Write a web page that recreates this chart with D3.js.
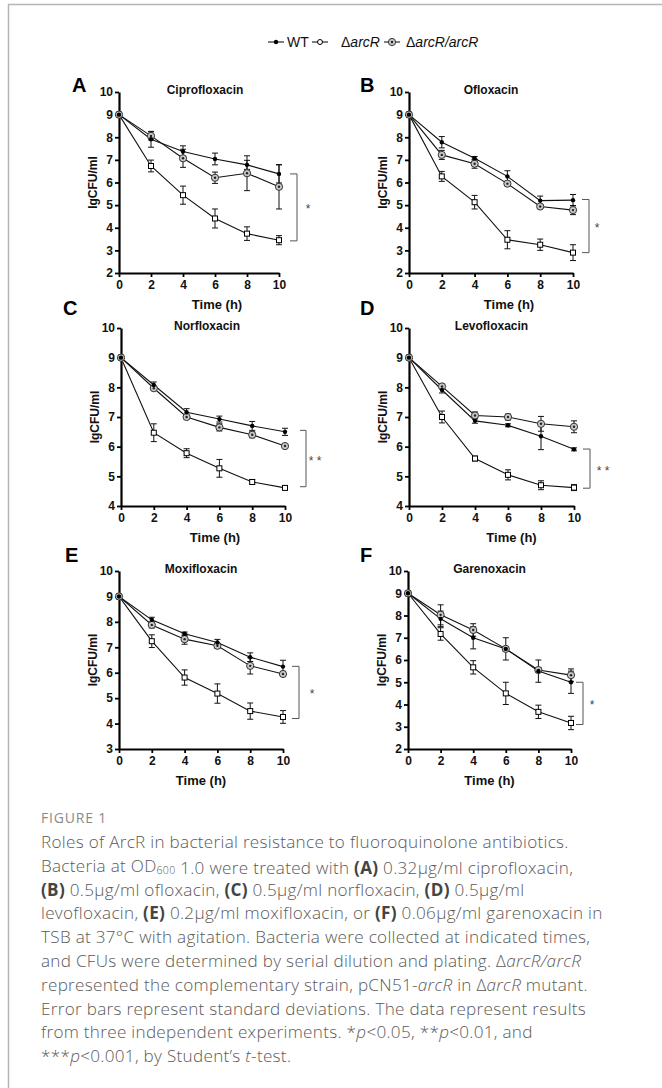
<!DOCTYPE html>
<html>
<head>
<meta charset="utf-8">
<script src="https://cdn.jsdelivr.net/npm/d3@7/dist/d3.min.js"></script>
<style>
  html, body { margin: 0; padding: 0; background: #fff; }
  svg { display: block; }
</style>
</head>
<body>
<div id="chart"></div>
<script>
const times = [0, 2, 4, 6, 8, 10];

// A - Ciprofloxacin
const cipWT = [9, 7.91, 7.37, 7.04, 6.78, 6.38];
const cipWTsd = [0, 0.35, 0.25, 0.26, 0.2, 0.4];
const cipMut = [9, 6.73, 5.44, 4.41, 3.74, 3.45];
const cipMutSd = [0, 0.26, 0.4, 0.42, 0.3, 0.2];
const cipComp = [9, 8.06, 7.07, 6.21, 6.41, 5.81];
const cipCompSd = [0, 0.18, 0.4, 0.25, 0.77, 0.98];

// B - Ofloxacin
const oflWT = [9, 7.78, 7.07, 6.27, 5.2, 5.22];
const oflWTsd = [0, 0.25, 0.08, 0.25, 0.2, 0.25];
const oflMut = [9, 6.27, 5.13, 3.47, 3.25, 2.9];
const oflMutSd = [0, 0.22, 0.3, 0.4, 0.25, 0.35];
const oflComp = [9, 7.22, 6.83, 5.95, 4.94, 4.78];
const oflCompSd = [0, 0.2, 0.2, 0.05, 0.08, 0.2];

// C - Norfloxacin
const norWT = [9, 8.08, 7.16, 6.93, 6.7, 6.5];
const norWTsd = [0, 0.1, 0.12, 0.1, 0.15, 0.12];
const norMut = [9, 6.47, 5.78, 5.27, 4.81, 4.61];
const norMutSd = [0, 0.3, 0.15, 0.3, 0.08, 0.03];
const norComp = [9, 7.97, 7.0, 6.65, 6.4, 6.02];
const norCompSd = [0, 0.05, 0.05, 0.12, 0.1, 0.03];

// D - Levofloxacin
const levWT = [9, 7.91, 6.87, 6.72, 6.35, 5.91];
const levWTsd = [0, 0.1, 0.08, 0.05, 0.45, 0.05];
const levMut = [9, 7.0, 5.6, 5.05, 4.7, 4.62];
const levMutSd = [0, 0.2, 0.08, 0.17, 0.15, 0.1];
const levComp = [9, 8.03, 7.05, 7.0, 6.77, 6.67];
const levCompSd = [0, 0.08, 0.12, 0.1, 0.25, 0.2];

// E - Moxifloxacin
const moxWT = [9, 8.08, 7.53, 7.19, 6.61, 6.24];
const moxWTsd = [0, 0.1, 0.07, 0.12, 0.17, 0.25];
const moxMut = [9, 7.24, 5.81, 5.18, 4.49, 4.26];
const moxMutSd = [0, 0.25, 0.3, 0.38, 0.32, 0.25];
const moxComp = [9, 7.88, 7.32, 7.06, 6.27, 5.95];
const moxCompSd = [0, 0.12, 0.2, 0.1, 0.32, 0.1];

// F - Garenoxacin
const garWT = [9, 7.85, 7.0, 6.5, 5.5, 5.0];
const garWTsd = [0, 0.35, 0.5, 0.5, 0.5, 0.5];
const garMut = [9, 7.17, 5.67, 4.5, 3.67, 3.17];
const garMutSd = [0, 0.28, 0.3, 0.5, 0.3, 0.3];
const garComp = [9, 8.03, 7.35, 6.5, 5.55, 5.32];
const garCompSd = [0, 0.45, 0.28, 0.1, 0.1, 0.28];

// significance brackets (top value, bottom value, label)
const sigTop = [6.38, 5.25, 6.55, 5.92, 6.25, 5.0];
const sigBottom = [3.42, 2.9, 4.65, 4.6, 4.2, 3.1];
const sigLabel = ["*", "*", "* *", "* *", "*", "*"];

const panelLetters = ["A", "B", "C", "D", "E", "F"];
const panelTitles = ["Ciprofloxacin", "Ofloxacin", "Norfloxacin", "Levofloxacin", "Moxifloxacin", "Garenoxacin"];
const yMins = [2, 2, 4, 4, 3, 2];

// layout of each panel on the page
const layout = [
  { x0: 119, x1: 279, yTop: 92, yBot: 273, lx: 72, ly: 92, titleDx: 6, timeDx: 18, brGap: 11, brW: 7, starDx: 29 },
  { x0: 409, x1: 573, yTop: 92, yBot: 273, lx: 360, ly: 92, titleDx: 0, timeDx: 18, brGap: 9, brW: 7, starDx: 24 },
  { x0: 121, x1: 285, yTop: 328, yBot: 506, lx: 63, ly: 315, titleDx: 4, timeDx: 12, brGap: 15, brW: 6, starDx: 30 },
  { x0: 409, x1: 574, yTop: 328, yBot: 506, lx: 360, ly: 315, titleDx: 0, timeDx: 20, brGap: 9, brW: 7, starDx: 29 },
  { x0: 119, x1: 283, yTop: 571, yBot: 749, lx: 65, ly: 562, titleDx: 0, timeDx: 0, brGap: 9, brW: 7, starDx: 29 },
  { x0: 408, x1: 571, yTop: 571, yBot: 749, lx: 360, ly: 562, titleDx: 0, timeDx: 0, brGap: 5, brW: 7, starDx: 21 }
];

const seriesData = [
  [cipWT, cipWTsd, cipMut, cipMutSd, cipComp, cipCompSd],
  [oflWT, oflWTsd, oflMut, oflMutSd, oflComp, oflCompSd],
  [norWT, norWTsd, norMut, norMutSd, norComp, norCompSd],
  [levWT, levWTsd, levMut, levMutSd, levComp, levCompSd],
  [moxWT, moxWTsd, moxMut, moxMutSd, moxComp, moxCompSd],
  [garWT, garWTsd, garMut, garMutSd, garComp, garCompSd]
];

const W = 662, H = 1088;
const axisFont = "'Liberation Sans', Arial, Helvetica, sans-serif";

const svg = d3.select("#chart").append("svg").attr("width", W).attr("height", H);

// page frame (top and left edges)
svg.append("line").attr("x1", 8).attr("x2", W).attr("y1", 4.5).attr("y2", 4.5)
  .attr("stroke", "#b5b5b5").attr("stroke-width", 1.5);
svg.append("line").attr("x1", 8.5).attr("x2", 8.5).attr("y1", 4).attr("y2", H)
  .attr("stroke", "#b5b5b5").attr("stroke-width", 1.5);

// marker drawers
function drawMarker(g, kind, cx, cy) {
  if (kind === "wt") {
    g.append("circle").attr("cx", cx).attr("cy", cy).attr("r", 2.2).attr("fill", "#000");
  } else if (kind === "mut") {
    g.append("rect").attr("x", cx - 2.5).attr("y", cy - 2.5).attr("width", 5).attr("height", 5)
      .attr("fill", "#fff").attr("stroke", "#000").attr("stroke-width", 1);
  } else {
    g.append("circle").attr("cx", cx).attr("cy", cy).attr("r", 3.6)
      .attr("fill", "#c8c8c8").attr("stroke", "#333").attr("stroke-width", 1);
    g.append("circle").attr("cx", cx).attr("cy", cy).attr("r", 1.2).attr("fill", "#222");
  }
}

// legend
const legend = svg.append("g").attr("font-family", axisFont).attr("font-size", 14);
const legY = 42;
const legItems = [
  { kind: "wt", mx: 276, tx: 287, label: null },
  { kind: "mut", mx: 320, tx: 341, label: "arcR" },
  { kind: "comp", mx: 392, tx: 406, label: "arcR/arcR" }
];
legItems.forEach((it) => {
  legend.append("line").attr("x1", it.mx - 8).attr("x2", it.mx + 8)
    .attr("y1", legY).attr("y2", legY).attr("stroke", "#000").attr("stroke-width", 1);
  if (it.kind === "mut") {
    legend.append("circle").attr("cx", it.mx).attr("cy", legY).attr("r", 2.5)
      .attr("fill", "#fff").attr("stroke", "#000");
  } else {
    drawMarker(legend, it.kind, it.mx, legY);
  }
  const t = legend.append("text").attr("x", it.tx).attr("y", legY + 5).attr("fill", "#111");
  if (it.label === null) {
    t.text("WT");
  } else {
    t.append("tspan").text("\u0394");
    t.append("tspan").attr("font-style", "italic").text(it.label);
  }
});

// panels
layout.forEach((L, i) => {
  const [wt, wtSd, mut, mutSd, comp, compSd] = seriesData[i];
  const g = svg.append("g").attr("font-family", axisFont);

  const x = d3.scaleLinear().domain([0, 10]).range([L.x0, L.x1]);
  const y = d3.scaleLinear().domain([yMins[i], 10]).range([L.yBot, L.yTop]);

  // axes
  const yAxis = g.append("g").attr("transform", `translate(${L.x0},0)`)
    .call(d3.axisLeft(y).ticks(10 - yMins[i]).tickSize(4).tickSizeOuter(0).tickPadding(2));
  const xAxis = g.append("g").attr("transform", `translate(0,${L.yBot})`)
    .call(d3.axisBottom(x).tickValues(times).tickSize(4).tickSizeOuter(0).tickPadding(3));
  [yAxis, xAxis].forEach((ax) => {
    ax.select(".domain").attr("stroke-width", 2.2);
    ax.selectAll(".tick line").attr("stroke-width", 1.8);
    ax.selectAll(".tick text").attr("font-size", 12).attr("font-weight", "bold")
      .attr("font-family", axisFont).attr("fill", "#111");
  });

  // labels
  g.append("text").attr("x", L.lx).attr("y", L.ly).attr("font-size", 20)
    .attr("font-weight", "bold").attr("fill", "#000").text(panelLetters[i]);
  g.append("text").attr("x", (L.x0 + L.x1) / 2 + L.titleDx).attr("y", L.yTop + 2)
    .attr("text-anchor", "middle").attr("font-size", 12).attr("font-weight", "bold")
    .attr("fill", "#111").text(panelTitles[i]);
  g.append("text").attr("x", (L.x0 + L.x1) / 2 + L.timeDx).attr("y", L.yBot + 36)
    .attr("text-anchor", "middle").attr("font-size", 13).attr("font-weight", "bold")
    .attr("fill", "#111").text("Time (h)");
  g.append("text")
    .attr("transform", `translate(${L.x0 - 22},${(L.yTop + L.yBot) / 2}) rotate(-90)`)
    .attr("text-anchor", "middle").attr("font-size", 12).attr("font-weight", "bold")
    .attr("fill", "#111").text("lgCFU/ml");

  const line = d3.line().x((d, k) => x(times[k])).y((d) => y(d));

  const series = [
    { vals: mut, sd: mutSd, kind: "mut" },
    { vals: comp, sd: compSd, kind: "comp" },
    { vals: wt, sd: wtSd, kind: "wt" }
  ];

  // lines
  series.forEach((s) => {
    g.append("path").datum(s.vals).attr("d", line).attr("fill", "none")
      .attr("stroke", "#111").attr("stroke-width", 1.1);
  });

  // error bars
  series.forEach((s) => {
    s.vals.forEach((v, k) => {
      if (!s.sd[k]) return;
      const cx = x(times[k]);
      const yHi = y(v + s.sd[k]);
      const yLo = y(v - s.sd[k]);
      g.append("line").attr("x1", cx).attr("x2", cx).attr("y1", yHi).attr("y2", yLo)
        .attr("stroke", "#111").attr("stroke-width", 1);
      [yHi, yLo].forEach((yy) => {
        g.append("line").attr("x1", cx - 3).attr("x2", cx + 3).attr("y1", yy).attr("y2", yy)
          .attr("stroke", "#111").attr("stroke-width", 1);
      });
    });
  });

  // markers
  series.forEach((s) => {
    s.vals.forEach((v, k) => drawMarker(g, s.kind, x(times[k]), y(v)));
  });

  // significance bracket
  const bx = L.x1 + L.brGap;
  const yT = y(sigTop[i]);
  const yB = y(sigBottom[i]);
  g.append("path")
    .attr("d", `M${bx},${yT}H${bx + L.brW}V${yB}H${bx}`)
    .attr("fill", "none").attr("stroke", "#555").attr("stroke-width", 1);
  g.append("text").attr("x", L.x1 + L.starDx).attr("y", (yT + yB) / 2 + 6)
    .attr("text-anchor", "middle").attr("font-size", 12).attr("fill", "#444")
    .text(sigLabel[i]);
});

// caption
const capFont = "'Open Sans', 'Noto Sans', sans-serif";
svg.append("text").attr("x", 41).attr("y", 823).attr("font-family", capFont)
  .attr("font-size", 14).attr("letter-spacing", 0.8).attr("fill", "#8a8a8a")
  .text("FIGURE 1");

const captionLines = [
  [["Roles of ArcR in bacterial resistance to fluoroquinolone antibiotics.", ""]],
  [["Bacteria at OD", ""], ["600", "sub"], [" 1.0 were treated with ", ""], ["(A)", "b"], [" 0.32\u03bcg/ml ciprofloxacin,", ""]],
  [["(B)", "b"], [" 0.5\u03bcg/ml ofloxacin, ", ""], ["(C)", "b"], [" 0.5\u03bcg/ml norfloxacin, ", ""], ["(D)", "b"], [" 0.5\u03bcg/ml", ""]],
  [["levofloxacin, ", ""], ["(E)", "b"], [" 0.2\u03bcg/ml moxifloxacin, or ", ""], ["(F)", "b"], [" 0.06\u03bcg/ml garenoxacin in", ""]],
  [["TSB at 37\u00b0C with agitation. Bacteria were collected at indicated times,", ""]],
  [["and CFUs were determined by serial dilution and plating. \u0394", ""], ["arcR/arcR", "i"]],
  [["represented the complementary strain, pCN51-", ""], ["arcR", "i"], [" in \u0394", ""], ["arcR", "i"], [" mutant.", ""]],
  [["Error bars represent standard deviations. The data represent results", ""]],
  [["from three independent experiments. *", ""], ["p", "i"], ["<0.05, **", ""], ["p", "i"], ["<0.01, and", ""]],
  [["***", ""], ["p", "i"], ["<0.001, by Student\u2019s ", ""], ["t", "i"], ["-test.", ""]]
];

const capY0 = 848, capDy = 23.8;
captionLines.forEach((segs, li) => {
  const t = svg.append("text").attr("x", 41).attr("y", capY0 + li * capDy)
    .attr("font-family", capFont).attr("font-size", 17.1).attr("letter-spacing", 0.3)
    .attr("fill", "#5a5a5a").attr("font-weight", 300);
  segs.forEach(([txt, st]) => {
    const ts = t.append("tspan").text(txt);
    if (st === "b") ts.attr("font-weight", "bold").attr("fill", "#444");
    if (st === "i") ts.attr("font-style", "italic");
    if (st === "sub") {
      ts.attr("font-size", 10.5).attr("dy", 1.8);
      t.append("tspan").attr("dy", -1.8).text("");
    }
  });
});
</script>
</body>
</html>
